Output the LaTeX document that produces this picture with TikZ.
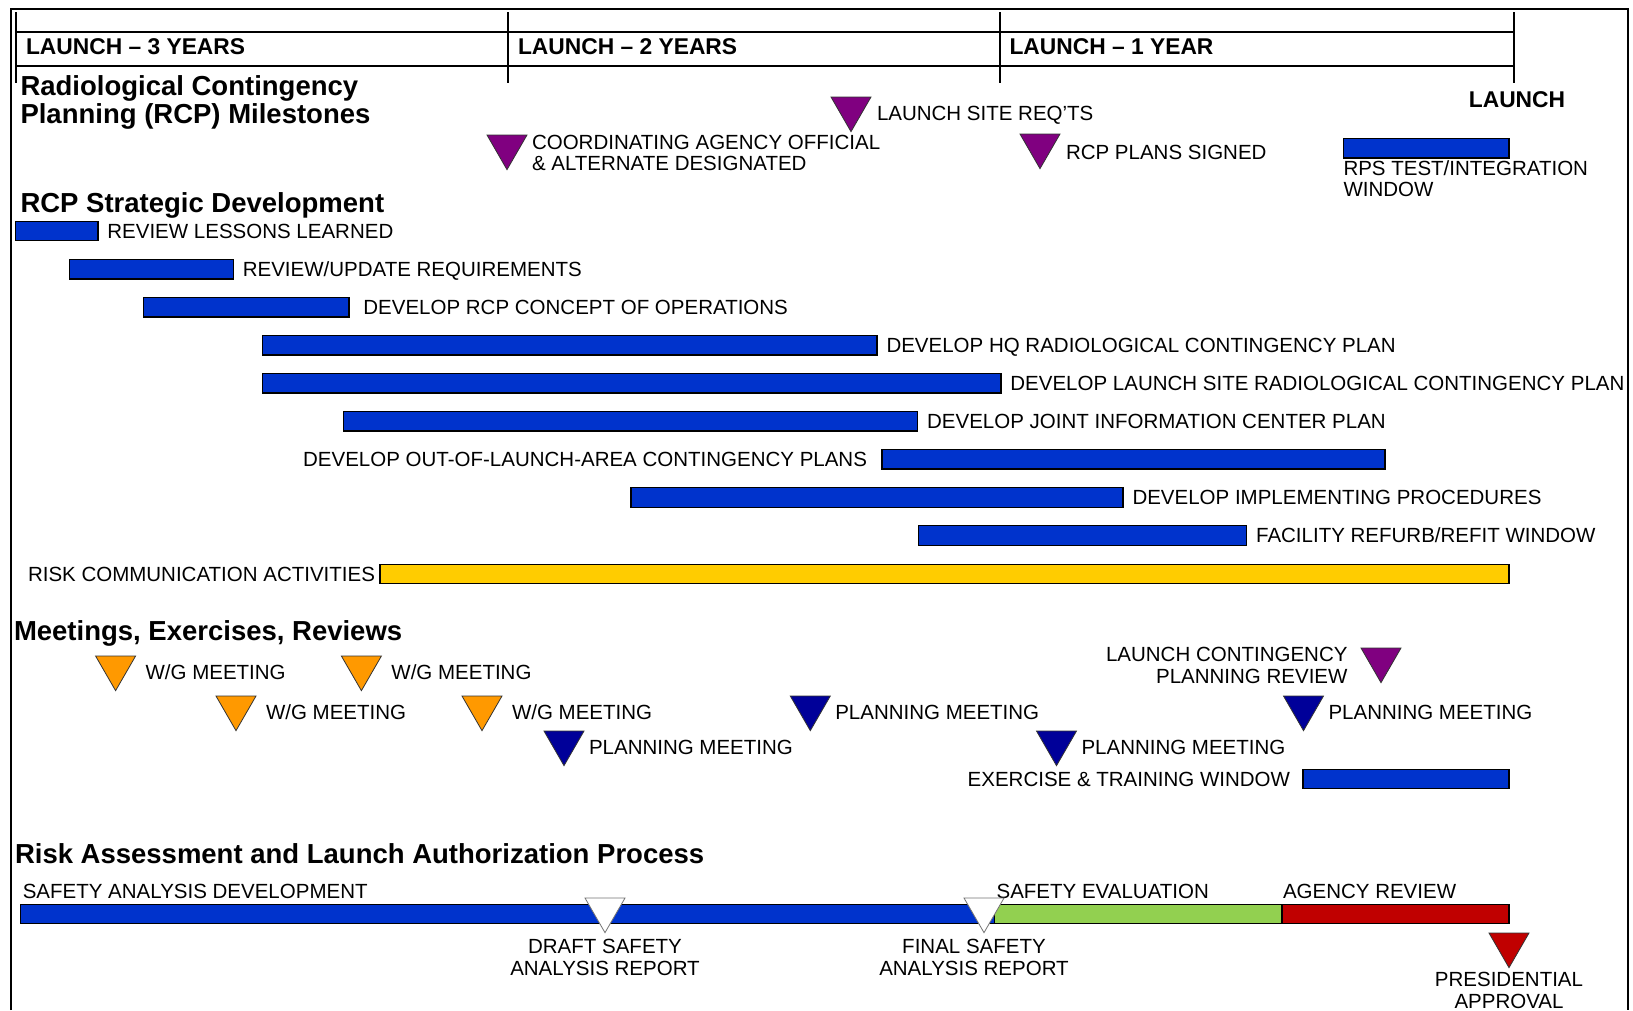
\documentclass[tikz,border=0pt]{standalone}
\usepackage{fontspec}
\setmainfont{Liberation Sans}
\usetikzlibrary{shapes.geometric,positioning}
\definecolor{barblue}{RGB}{0,51,204}
\definecolor{riskgold}{RGB}{255,204,0}
\definecolor{evalgreen}{RGB}{146,208,80}
\definecolor{revred}{RGB}{192,0,0}
\definecolor{wgorange}{RGB}{255,153,0}
\definecolor{pmnavy}{RGB}{0,0,153}
\definecolor{msviolet}{RGB}{128,0,128}

\begin{document}
\begin{tikzpicture}[x=1pt, y=-1pt,
    every node/.style={inner sep=0pt, outer sep=0pt},
    bar/.style={rectangle, draw=black, line width=1.2pt, fill=barblue, minimum height=19.5pt, anchor=west},
    lbl/.style={font=\fontsize{20.5}{21.3}\selectfont, text height=14.7pt, text depth=0pt},
    note/.style={font=\fontsize{20.5}{21.3}\selectfont},
    yearlbl/.style={font=\fontsize{22.8}{24}\selectfont\bfseries, text height=16.3pt, text depth=0pt},
    sectitle/.style={font=\fontsize{27.5}{28.4}\selectfont\bfseries},
    tri/.style={regular polygon, regular polygon sides=3, shape border rotate=180, minimum size=46.2pt, draw=black!80, line width=0.8pt, anchor=north},
    frame/.style={line width=2pt},
    tick/.style={line width=2.2pt}
]
    \useasboundingbox (0,0) rectangle (1633,1010);
    \draw[frame] (11,1010) -- (11,9) -- (1628,9) -- (1628,1010);

    % year scale
    \draw[tick] (16,32) -- (1514,32) (16,66) -- (1514,66);
    \foreach \x in {16,508,1000,1514}
        \draw[tick] (\x,12) -- (\x,83);
    \node[yearlbl, anchor=west] (y3) at (26,46.5) {LAUNCH – 3 YEARS};
    \node[yearlbl, anchor=west] (y2) at (518,46.5) {LAUNCH – 2 YEARS};
    \node[yearlbl, anchor=west] (y1) at (1009.5,46.5) {LAUNCH – 1 YEAR};
    \node[yearlbl] (launch) at (1517,99.5) {LAUNCH};

    % milestones
    \node[sectitle, align=left, anchor=north west] (milestones) at (20.5,75.6) {Radiological Contingency\\Planning (RCP) Milestones};
    \node[tri, fill=msviolet] (m1) at (507,135) {};
    \node[note, align=left, anchor=west] (m1l) at ([xshift=25pt, yshift=-6.5pt]m1.center) {COORDINATING AGENCY OFFICIAL\\\& ALTERNATE DESIGNATED};
    \node[tri, fill=msviolet] (m2) at (851,97) {};
    \node[lbl, anchor=west] (m2l) at ([xshift=26pt, yshift=-4.5pt]m2.center) {LAUNCH SITE REQ’TS};
    \node[tri, fill=msviolet] (m3) at (1040,134) {};
    \node[lbl, anchor=west] (m3l) at ([xshift=26pt, yshift=-6.5pt]m3.center) {RCP PLANS SIGNED};
    \node[bar, minimum width=165.5pt] (rps) at (1343.5,148.3) {};
    \node[note, align=left, anchor=north west] (rpsl) at ([yshift=-2.5pt]rps.south west) {RPS TEST/INTEGRATION\\WINDOW};

    % strategic development
    \node[sectitle, anchor=base west] (strategic) at (20.5,212) {RCP Strategic Development};
    \node[bar, minimum width=82.3pt] (b1) at (15.6,231) {};
    \node[lbl, right=9.5pt of b1] (b1l) {REVIEW LESSONS LEARNED};
    \node[bar, minimum width=163.5pt] (b2) at (69.8,269.3) {};
    \node[lbl, right=9.5pt of b2] (b2l) {REVIEW/UPDATE REQUIREMENTS};
    \node[bar, minimum width=205.2pt] (b3) at (143.7,307.3) {};
    \node[lbl, right=14.5pt of b3] (b3l) {DEVELOP RCP CONCEPT OF OPERATIONS};
    \node[bar, minimum width=614.5pt] (b4) at (262.5,345.3) {};
    \node[lbl, right=9.5pt of b4] (b4l) {DEVELOP HQ RADIOLOGICAL CONTINGENCY PLAN};
    \node[bar, minimum width=738.4pt] (b5) at (262.5,383.3) {};
    \node[lbl, right=9.5pt of b5] (b5l) {DEVELOP LAUNCH SITE RADIOLOGICAL CONTINGENCY PLAN};
    \node[bar, minimum width=573.9pt] (b6) at (343.7,421.3) {};
    \node[lbl, right=9.5pt of b6] (b6l) {DEVELOP JOINT INFORMATION CENTER PLAN};
    \node[bar, minimum width=503pt] (b7) at (882,459.3) {};
    \node[lbl, left=15pt of b7] (b7l) {DEVELOP OUT-OF-LAUNCH-AREA CONTINGENCY PLANS};
    \node[bar, minimum width=492pt] (b8) at (631,497.5) {};
    \node[lbl, right=9.5pt of b8] (b8l) {DEVELOP IMPLEMENTING PROCEDURES};
    \node[bar, minimum width=328pt] (b9) at (918.6,535.5) {};
    \node[lbl, right=9.5pt of b9] (b9l) {FACILITY REFURB/REFIT WINDOW};
    \node[bar, fill=riskgold, minimum width=1129pt] (b10) at (380,574) {};
    \node[lbl, left=5pt of b10] (b10l) {RISK COMMUNICATION ACTIVITIES};

    % meetings, exercises, reviews
    \node[sectitle, anchor=base west] (meetings) at (14,640) {Meetings, Exercises, Reviews};
    \foreach \n/\x/\y in {1/115.6/656, 2/361.4/656, 3/236/696, 4/482/696} {
        \node[tri, fill=wgorange] (wg\n) at (\x,\y) {};
        \node[lbl, anchor=west] (wgl\n) at ([xshift=30pt, yshift=-5pt]wg\n.center) {W/G MEETING};
    }
    \foreach \n/\x/\y in {1/564/731, 2/810.3/696, 3/1056.5/731, 4/1303.5/696} {
        \node[tri, fill=pmnavy] (pm\n) at (\x,\y) {};
        \node[lbl, anchor=west] (pml\n) at ([xshift=25pt, yshift=-5pt]pm\n.center) {PLANNING MEETING};
    }
    \node[tri, fill=msviolet] (lc) at (1381,648) {};
    \node[note, align=right, anchor=east] (lcl) at ([xshift=-33.5pt, yshift=-6pt]lc.center) {LAUNCH CONTINGENCY\\PLANNING REVIEW};
    \node[bar, minimum width=206pt] (ex) at (1303,779) {};
    \node[lbl, left=13pt of ex] (exl) {EXERCISE \& TRAINING WINDOW};

    % risk assessment
    \node[sectitle, anchor=base west] (risk) at (15,863) {Risk Assessment and Launch Authorization Process};
    \node[bar, minimum width=973.8pt] (sa) at (20.8,914) {};
    \node[bar, fill=evalgreen, minimum width=287.4pt] (se) at (sa.east) {};
    \node[bar, fill=revred, minimum width=227pt] (ar) at (se.east) {};
    \node[lbl, anchor=south west] (sal) at ([xshift=2pt, yshift=5.5pt]sa.north west) {SAFETY ANALYSIS DEVELOPMENT};
    \node[lbl, anchor=south west] (sel) at ([xshift=2pt, yshift=5.5pt]se.north west) {SAFETY EVALUATION};
    \node[lbl, anchor=south west] (arl) at ([xshift=1pt, yshift=5.5pt]ar.north west) {AGENCY REVIEW};
    \node[tri, fill=white, draw=black!55] (dr) at (605,898) {};
    \node[note, align=center, anchor=north] (drl) at ([yshift=-6.8pt]dr.south) {DRAFT SAFETY\\ANALYSIS REPORT};
    \node[tri, fill=white, draw=black!55] (fs) at (984,898) {};
    \node[note, align=center, anchor=north] (fsl) at ([xshift=-10pt, yshift=-6.8pt]fs.south) {FINAL SAFETY\\ANALYSIS REPORT};
    \node[tri, fill=revred] (pa) at (1509,933) {};
    \node[note, align=center, anchor=north] (pal) at ([yshift=-5pt]pa.south) {PRESIDENTIAL\\APPROVAL};
\end{tikzpicture}
\end{document}
